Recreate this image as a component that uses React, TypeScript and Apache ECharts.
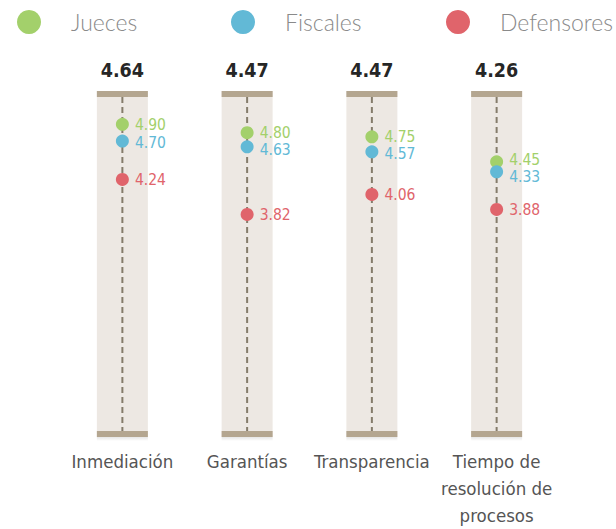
import React, { useEffect, useRef } from "react";
import * as echarts from "echarts";

const categories = ["Inmediación", "Garantías", "Transparencia", "Tiempo de\nresolución de\nprocesos"];
const averages = [4.64, 4.47, 4.47, 4.26];
const jueces = [4.9, 4.8, 4.75, 4.45];
const fiscales = [4.7, 4.63, 4.57, 4.33];
const defensores = [4.24, 3.82, 4.06, 3.88];
const seriesNames = ["Jueces", "Fiscales", "Defensores"];

const Y_MIN = 1.15;
const Y_MAX = 5.3;
const COLORS = ["#a3d06b", "#62b9d6", "#e0646b"];
const NARROW = "'Liberation Sans Narrow', 'DejaVu Sans Condensed', 'Roboto', sans-serif";

export default function App() {
  const ref = useRef<HTMLDivElement>(null);
  useEffect(() => {
    if (!ref.current) return;
    const chart = echarts.init(ref.current, undefined, { renderer: "svg" });
    const plotH = 346;
    const pxPerUnit = plotH / (Y_MAX - Y_MIN);
    const minGap = 16;
    const greenDy: number[] = [];
    const blueDy: number[] = [];
    jueces.forEach((j, i) => {
      const gap = (j - fiscales[i]) * pxPerUnit;
      const deficit = Math.max(0, minGap - gap);
      greenDy.push(1 - deficit / 2);
      blueDy.push(2 + deficit / 2);
    });

    const mkScatter = (name: string, values: number[], color: string, dys: number[] | null) => ({
      name,
      type: "scatter",
      symbol: "circle",
      symbolSize: 13,
      itemStyle: { color, opacity: 1 },
      z: 5,
      data: values.map((v, i) => ({
        value: [i, v],
        label: { offset: [0, dys ? dys[i] : 1] },
      })),
      label: {
        show: true,
        position: "right",
        distance: 6,
        color,
        fontFamily: NARROW,
        fontSize: 15.5,
        formatter: (p: any) => Number(p.value[1]).toFixed(2),
      },
      emphasis: { disabled: true },
    });

    const mkLegend = (name: string, left: number) => ({
      data: [{ name, icon: "circle" }],
      left,
      top: 5,
      itemWidth: 24,
      itemHeight: 24,
      selectedMode: false,
      textStyle: {
        fontFamily: "Lato",
        fontWeight: 300,
        fontSize: 23,
        color: "#8a8a8a",
        padding: [0, 0, 0, 25],
      },
    });

    chart.setOption({
      animation: false,
      legend: [mkLegend(seriesNames[0], 12), mkLegend(seriesNames[1], 226), mkLegend(seriesNames[2], 441)],
      grid: { left: 60, right: 57, top: 91, bottom: 92 },
      xAxis: {
        type: "category",
        data: categories,
        axisLine: { show: false },
        axisTick: { show: false },
        splitLine: { show: false },
        axisLabel: {
          interval: 0,
          margin: 11,
          color: "#555",
          fontFamily: NARROW,
          fontSize: 18.5,
          lineHeight: 27,
          align: "center",
        },
      },
      yAxis: {
        type: "value",
        min: Y_MIN,
        max: Y_MAX,
        show: false,
        splitLine: { show: false },
      },
      series: [
        {
          type: "custom",
          z: 1,
          silent: true,
          data: averages.map((a, i) => [i, a]),
          renderItem: (params: any, api: any) => {
            const idx = api.value(0);
            const avg = api.value(1);
            const top = api.coord([idx, Y_MAX]);
            const bot = api.coord([idx, Y_MIN]);
            const w = 51;
            const x0 = top[0] - w / 2;
            const capH = 6;
            return {
              type: "group",
              children: [
                {
                  type: "rect",
                  shape: { x: x0, y: top[1], width: w, height: bot[1] - top[1] },
                  style: { fill: "#ede8e3" },
                },
                {
                  type: "rect",
                  shape: { x: x0, y: bot[1], width: w, height: 4 },
                  style: {
                    fill: new echarts.graphic.LinearGradient(0, 0, 0, 1, [
                      { offset: 0, color: "rgba(0,0,0,0.10)" },
                      { offset: 1, color: "rgba(0,0,0,0)" },
                    ]),
                  },
                },
                {
                  type: "line",
                  shape: { x1: top[0], y1: top[1] + capH, x2: top[0], y2: bot[1] - capH },
                  style: { stroke: "#857c6b", lineWidth: 2, lineDash: [6, 4] },
                },
                {
                  type: "rect",
                  shape: { x: x0, y: top[1], width: w, height: capH },
                  style: { fill: "#b4a690" },
                },
                {
                  type: "rect",
                  shape: { x: x0, y: bot[1] - capH, width: w, height: capH },
                  style: { fill: "#b4a690" },
                },
                {
                  type: "text",
                  x: top[0],
                  y: top[1] - 21,
                  style: {
                    text: Number(avg).toFixed(2),
                    fill: "#262626",
                    font: `bold 19.5px ${NARROW}`,
                    align: "center",
                    verticalAlign: "middle",
                  },
                },
              ],
            };
          },
        },
        mkScatter(seriesNames[0], jueces, COLORS[0], greenDy),
        mkScatter(seriesNames[1], fiscales, COLORS[1], blueDy),
        mkScatter(seriesNames[2], defensores, COLORS[2], null),
      ],
    });
    return () => chart.dispose();
  }, []);
  return (
    <div
      ref={ref}
      style={{ position: "fixed", left: 0, top: 0, width: 616, height: 529, background: "#fff" }}
    />
  );
}
